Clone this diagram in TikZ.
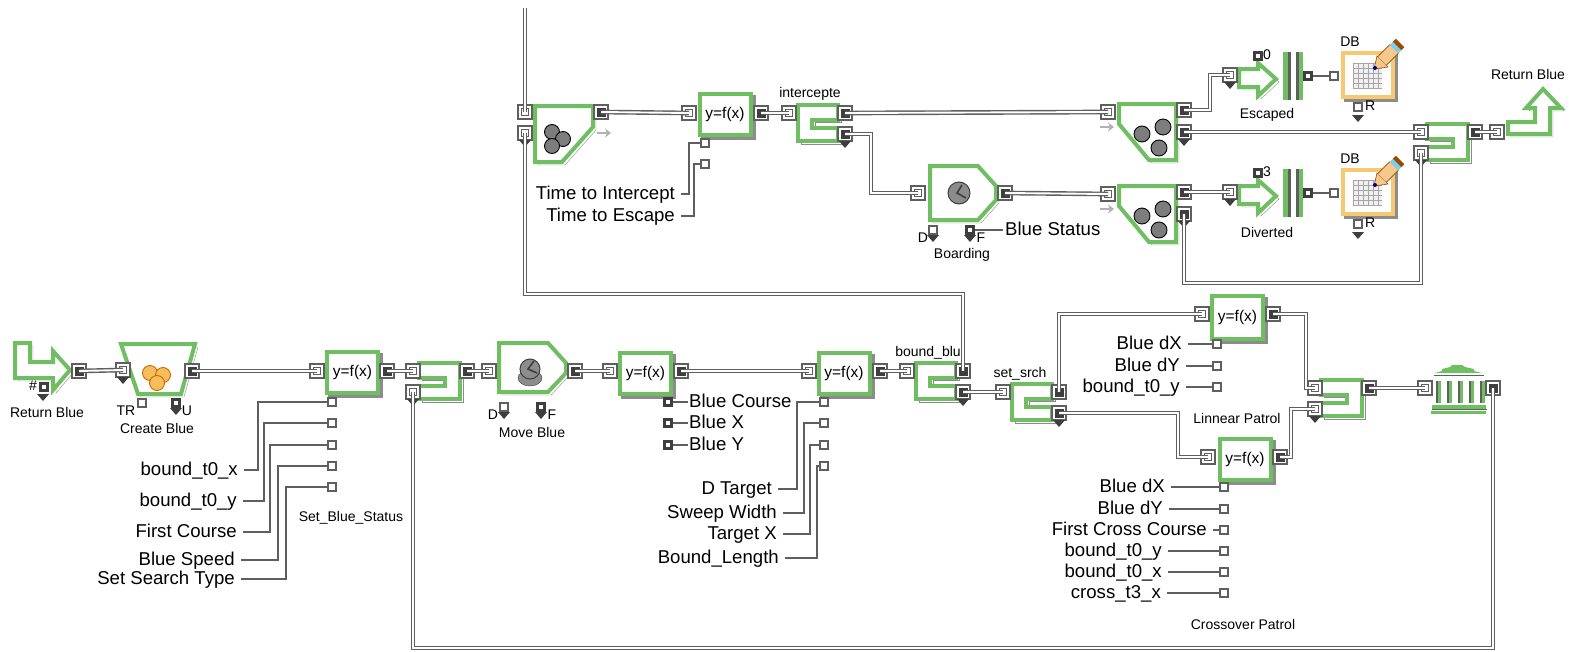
\documentclass[tikz,border=0pt]{standalone}
\usepackage{fontspec}
\setmainfont{Liberation Sans}
\usetikzlibrary{arrows.meta,positioning,calc}
\definecolor{blockGreen}{RGB}{112,190,98}
\definecolor{dbOrange}{RGB}{246,200,112}
\definecolor{shadeGray}{RGB}{140,140,140}
\definecolor{portGray}{RGB}{95,95,95}
\definecolor{portDark}{RGB}{62,62,62}
\definecolor{ballGray}{RGB}{125,125,125}
\definecolor{ballOrange}{RGB}{246,190,90}
\definecolor{pencilTan}{RGB}{246,200,140}

\tikzset{
  shaded/.style={preaction={draw=shadeGray, transform canvas={xshift=3pt, yshift=-3pt}}},
  block/.style={draw=blockGreen, fill=white, line width=4pt, miter limit=10, shaded},
  fblock/.style={block, minimum width=51pt, minimum height=41pt, inner sep=0pt, font=\fontsize{15.5}{16}\selectfont},
  inport/.style={draw=portGray, fill=white, line width=1.6pt, minimum size=13.5pt, inner sep=0pt,
    path picture={\draw[portGray, line width=1.2pt] (path picture bounding box.center) +(-3.5,-3.5) rectangle +(3.5,3.5);}},
  outport/.style={draw=portGray, fill=white, line width=1.6pt, minimum size=13.5pt, inner sep=0pt,
    path picture={\fill[portDark] (path picture bounding box.center) +(-4.5,-4.5) rectangle +(4.5,4.5);}},
  tinyport/.style={draw=portGray, fill=white, line width=1.1pt, minimum size=8pt, inner sep=0pt},
  tinyfull/.style={draw=portDark, fill=white, line width=2.6pt, minimum size=7pt, inner sep=0pt},
  conn/.style={draw=portGray, line width=1.4pt, double=white, double distance=1.9pt},
  wire/.style={draw=portGray, line width=1.2pt},
  invar/.style={font=\fontsize{18.6}{19}\selectfont, inner ysep=0pt, inner xsep=6pt, text height=11pt, text depth=0pt},
  tag/.style={font=\fontsize{14}{14}\selectfont, inner sep=0pt},
  ball/.style={fill=ballGray, draw=black, line width=0.9pt},
  warmball/.style={fill=ballOrange, draw=orange!80!black, line width=0.9pt},
  hint/.style={-{Stealth[length=6pt,width=9pt]}, draw=gray!60, line width=2.4pt},
}

% drop mark under a port
\newcommand{\dropmark}[2]{\fill[portDark] (#1-6,#2) -- (#1+6,#2) -- (#1,#2+7) -- cycle;}

% merge box, opening to the left
\newcommand{\mergebox}[3]{
  \begin{scope}[shift={(#2,#3)}]
    \draw[block] (2,2) -- (43,2) -- (43,38) -- (2,38) -- (2,24.5) -- (28,24.5) -- (28,16.5) -- (2,16.5) -- cycle;
    \node[inport] (#1a) at (-4,10) {};
    \node[inport] (#1b) at (-4,31) {};
    \node[outport] (#1o) at (50,10) {};
    \dropmark{-4}{38}
  \end{scope}}

% split box, opening to the right
\newcommand{\splitbox}[3]{
  \begin{scope}[shift={(#2,#3)}]
    \draw[block] (42,2) -- (2,2) -- (2,38) -- (42,38) -- (42,24.5) -- (16,24.5) -- (16,16.5) -- (42,16.5) -- cycle;
    \node[inport] (#1i) at (-7,10) {};
    \node[outport] (#1a) at (49,10) {};
    \node[outport] (#1b) at (49,31) {};
    \dropmark{49}{38}
  \end{scope}}

% batch box with the three dark balls
\newcommand{\batchbox}[3]{
  \begin{scope}[shift={(#2,#3)}]
    \draw[block] (2,2) -- (59,2) -- (59,58) -- (32,58) -- (2,22) -- cycle;
    \draw[ball] (25,32) circle (8);
    \draw[ball] (46,25) circle (8);
    \draw[ball] (42,46) circle (8);
    \draw[hint] (-17,25) -- (-3,25);
    \node[inport] (#1i) at (-9,10) {};
    \node[outport] (#1a) at (67,8) {};
    \node[outport] (#1b) at (67,30) {};
    \dropmark{67}{37}
  \end{scope}}

% exit arrow, gap bars and database, one row
\newcommand{\recordset}[4]{
  \begin{scope}[shift={(0,#2)}]
    \draw[block] (1239,69) -- (1258,69) -- (1258,63) -- (1276,79) -- (1258,96) -- (1258,87) -- (1239,87) -- cycle;
    \node[inport] (#1in) at (1230,75) {};
    \dropmark{1230}{82}
    \node[tinyfull] (#1num) at (1258,56) {};
    \node[tag, anchor=west] (#1val) at (1263,55) {#3};
    \fill[blockGreen] (1283,52) rectangle (1288,100);
    \fill[portGray] (1288,52) rectangle (1291,100);
    \fill[portGray] (1296,52) rectangle (1299,100);
    \fill[blockGreen] (1299,52) rectangle (1303,100);
    \node[tinyfull] (#1gap) at (1308,76) {};
    \node[tinyport] (#1db) at (1334,76) {};
    \node[draw=dbOrange, fill=white, line width=4pt, shaded, minimum width=50pt, minimum height=44pt, inner sep=0pt] (#1box) at (1368,75) {};
    \fill[gray!12] (1353,63) rectangle (1382,88);
    \draw[gray!70, line width=0.8pt, step=5pt, shift={(3,3)}] (1350,60) grid (1379,85);
    \fill[pencilTan, draw=orange!60!black, line width=0.6pt] (1374,69) -- (1377,56) -- (1388,67) -- cycle;
    \draw[line width=13pt, draw=orange!60!black] (1382,61) -- (1394,49);
    \draw[line width=11pt, draw=pencilTan] (1382,61) -- (1394,49);
    \draw[line width=12pt, draw=cyan!55!white] (1394,49) -- (1397,46);
    \draw[line width=12pt, draw=orange!60!black] (1397,46) -- (1400,43);
    \fill[blue!60!black] (1375,68) circle (2);
    \node[tag] (#1dbl) at (1350,42) {DB};
    \node[tinyport] (#1r) at (1358,107) {};
    \node[tag, anchor=west] (#1rl) at (1365,106) {R};
    \dropmark{1358}{115}
    \node[tag] (#1lbl) at (1267,115) {#4};
  \end{scope}}

\begin{document}
\begin{tikzpicture}[x=1pt, y=-1pt]
  \useasboundingbox (0,0) rectangle (1569,651);
  \fill[white] (0,0) rectangle (1569,651);

  % Entry and create
  \draw[block] (15,343) -- (30,343) -- (30,362) -- (53,362) -- (53,351) -- (70,370) -- (53,390) -- (53,378) -- (15,378) -- cycle;
  \node[outport] (retout) at (79,371) {};
  \node[tinyfull] (retnum) at (44,387) {};
  \node[tag] (rethash) at (33,386) {\#};
  \dropmark{43}{394}
  \node[tag] (retlbl) at (47,412) {Return Blue};
  \draw[block] (121,344) -- (195,344) -- (181,394) -- (138,394) -- cycle;
  \draw[warmball] (150,373) circle (7.5);
  \draw[warmball] (163,375) circle (7.5);
  \draw[warmball] (157,383) circle (7.5);
  \node[inport] (createin) at (123,370) {};
  \dropmark{123}{377}
  \node[outport] (createout) at (192,371) {};
  \node[tinyport] (createtr) at (142,403) {};
  \node[tinyfull] (createu) at (176,403) {};
  \dropmark{176}{408}
  \node[tag] (trlbl) at (126,411) {TR};
  \node[tag] (ulbl) at (187,411) {U};
  \node[tag] (createlbl) at (157,428) {Create Blue};

  % Set blue status
  \node[fblock] (status) at (352.5,372.5) {y=f(x)};
  \node[inport] (statusin) at (317,371) {};
  \node[outport] (statusout) at (387,371) {};
  \node[tinyport] (sa) at (332,402) {};
  \node[tinyport] (sb) at (332,423) {};
  \node[tinyport] (sc) at (332,445) {};
  \node[tinyport] (sd) at (332,466) {};
  \node[tinyport] (se) at (332,487) {};
  \node[tag] (statuslbl) at (351,518) {Set\_Blue\_Status};
  \node[invar, anchor=east] (boundx) at (244,470) {bound\_t0\_x};
  \node[invar, anchor=east] (boundy) at (243,501) {bound\_t0\_y};
  \node[invar, anchor=east] (course) at (243,532) {First Course};
  \node[invar, anchor=east] (speed) at (241,560) {Blue Speed};
  \node[invar, anchor=east] (search) at (241,579) {Set Search Type};
  \mergebox{first}{417}{361}

  % Move blue
  \draw[block] (499,343) -- (548,343) -- (566,363) -- (566,373) -- (548,392) -- (499,392) -- cycle;
  \draw[fill=shadeGray, draw=portDark] (530,378) ellipse (12 and 8);
  \draw[fill=shadeGray, draw=portDark, line width=1pt] (530,369) circle (10);
  \draw[portDark, line width=1.6pt] (534,361) -- (528,369) -- (537,373);
  \node[inport] (movein) at (489,371) {};
  \node[outport] (moveout) at (575,371) {};
  \node[tinyport] (moved) at (504,407) {};
  \dropmark{504}{412}
  \node[tinyfull] (movef) at (541,407) {};
  \dropmark{541}{412}
  \node[tag] (dmove) at (493,415) {D};
  \node[tag] (fmove) at (552,415) {F};
  \node[tag] (movelbl) at (532,432) {Move Blue};

  % Blue position
  \node[fblock] (place) at (645.5,373) {y=f(x)};
  \node[inport] (placein) at (610,371) {};
  \node[outport] (placeout) at (681,371) {};
  \node[tinyfull] (pa) at (668,402) {};
  \node[tinyfull] (pb) at (668,423) {};
  \node[tinyfull] (pc) at (668,445) {};
  \node[invar, anchor=west, inner xsep=1pt] (bcourse) at (688,402) {Blue Course};
  \node[invar, anchor=west, inner xsep=1pt] (bluex) at (688,423) {Blue X};
  \node[invar, anchor=west, inner xsep=1pt] (bluey) at (688,445) {Blue Y};

  % Bound
  \node[fblock] (bound) at (844,373) {y=f(x)};
  \node[inport] (boundin) at (809,371) {};
  \node[outport] (boundout) at (880,371) {};
  \node[tinyport] (ba) at (824,402) {};
  \node[tinyport] (bb) at (824,423) {};
  \node[tinyport] (bc) at (824,445) {};
  \node[tinyport] (bd) at (824,466) {};
  \node[invar, anchor=east] (dtarget) at (778,489) {D Target};
  \node[invar, anchor=east] (sweep) at (783,513) {Sweep Width};
  \node[invar, anchor=east] (targetx) at (783,534) {Target X};
  \node[invar, anchor=east] (boundlen) at (785,558) {Bound\_Length};
  \splitbox{blu}{914}{361}
  \node[tag] (blulbl) at (928,353) {bound\_blu};
  \splitbox{srch}{1010}{382}
  \node[tag] (srchlbl) at (1020,374) {set\_srch};

  % Linnear patrol
  \node[fblock, minimum height=43pt] (linear) at (1237.5,317) {y=f(x)};
  \node[inport] (linearin) at (1202,314) {};
  \node[outport] (linearout) at (1273,314) {};
  \node[tinyport] (la) at (1217,344) {};
  \node[tinyport] (lb) at (1217,366) {};
  \node[tinyport] (lc) at (1217,387) {};
  \node[invar, anchor=east] (ldx) at (1188,344) {Blue dX};
  \node[invar, anchor=east] (ldy) at (1186,366) {Blue dY};
  \node[invar, anchor=east] (lbt) at (1186,387) {bound\_t0\_y};
  \node[tag] (linearlbl) at (1237,418) {Linnear Patrol};

  % Crossover patrol
  \node[fblock] (cross) at (1245,459) {y=f(x)};
  \node[inport] (crossin) at (1208,457) {};
  \node[outport] (crossout) at (1280,457) {};
  \node[tinyport] (ca) at (1224,487) {};
  \node[tinyport] (cb) at (1224,509) {};
  \node[tinyport] (cc) at (1224,530) {};
  \node[tinyport] (cd) at (1224,551) {};
  \node[tinyport] (ce) at (1224,572) {};
  \node[tinyport] (cf) at (1224,593) {};
  \node[invar, anchor=east] (cdx) at (1171,487) {Blue dX};
  \node[invar, anchor=east] (cdy) at (1169,509) {Blue dY};
  \node[invar, anchor=east] (cfirst) at (1213,530) {First Cross Course};
  \node[invar, anchor=east] (cby) at (1168,551) {bound\_t0\_y};
  \node[invar, anchor=east] (cbx) at (1168,572) {bound\_t0\_x};
  \node[invar, anchor=east] (ctx) at (1167,593) {cross\_t3\_x};
  \node[tag] (crosslbl) at (1243,624) {Crossover Patrol};
  \mergebox{patrol}{1319}{378}

  % Sink
  \fill[blockGreen] (1435,373) -- (1442,371) -- (1442,369) -- (1450,367) -- (1452,365) -- (1462,365) -- (1465,367) -- (1474,369) -- (1474,371) -- (1482,373) -- cycle;
  \draw[portGray, line width=1pt] (1434,375) -- (1484,375);
  \fill[portGray] (1436,381) rectangle (1437.5,403);
  \fill[blockGreen] (1437.5,381) rectangle (1441,403);
  \fill[portGray] (1447,381) rectangle (1448.5,403);
  \fill[blockGreen] (1448.5,381) rectangle (1452,403);
  \fill[portGray] (1458,381) rectangle (1459.5,403);
  \fill[blockGreen] (1459.5,381) rectangle (1463,403);
  \fill[portGray] (1469,381) rectangle (1470.5,403);
  \fill[blockGreen] (1470.5,381) rectangle (1474,403);
  \fill[portGray] (1480,381) rectangle (1481.5,403);
  \fill[blockGreen] (1481.5,381) rectangle (1485,403);
  \fill[blockGreen] (1432,405) rectangle (1486,409);
  \fill[portGray] (1432,409) rectangle (1487,410);
  \fill[blockGreen] (1431,411) rectangle (1486,414);
  \node[inport] (sinkin) at (1425,388) {};
  \node[outport] (sinkout) at (1493,388) {};

  % Upper row
  \coordinate (topend) at (525,8);
  \draw[block] (535,106) -- (593,106) -- (593,127) -- (562,162) -- (535,162) -- cycle;
  \draw[ball] (552,132) circle (7.5);
  \draw[ball] (563,139) circle (7.5);
  \draw[ball] (552,146) circle (7.5);
  \draw[hint] (597,133) -- (611,133);
  \node[inport] (gatea) at (525,112) {};
  \node[inport] (gateb) at (525,133) {};
  \dropmark{525}{140}
  \node[outport] (gateout) at (601,112) {};
  \node[fblock] (timing) at (725,114) {y=f(x)};
  \node[inport] (timingin) at (689,113) {};
  \node[outport] (timingout) at (761,113) {};
  \node[tinyport] (ta) at (705,143) {};
  \node[tinyport] (tb) at (705,164) {};
  \node[invar, anchor=east] (tintercept) at (681,194) {Time to Intercept};
  \node[invar, anchor=east] (tescape) at (681,216) {Time to Escape};
  \splitbox{icpt}{796}{103}
  \node[tag] (icptlbl) at (810,94) {intercepte};

  % Boarding
  \draw[block] (930,166) -- (978,166) -- (996,186) -- (996,200) -- (978,220) -- (930,220) -- cycle;
  \draw[fill=shadeGray, draw=portDark, line width=1pt] (959,193) circle (11);
  \draw[portDark, line width=1.6pt] (962,185) -- (957,193) -- (966,198);
  \node[inport] (boardin) at (918,193) {};
  \node[outport] (boardout) at (1005,193) {};
  \node[tinyport] (boardd) at (933,230) {};
  \dropmark{933}{235}
  \node[tinyfull] (boardf) at (970,230) {};
  \dropmark{970}{235}
  \node[tag] (dboard) at (923,238) {D};
  \node[tag] (fboard) at (981,238) {F};
  \node[tag] (boardlbl) at (962,255) {Boarding};
  \node[invar, anchor=west, inner xsep=2pt] (bstatus) at (1003,230) {Blue Status};

  % Escaped and diverted
  \batchbox{esc}{1117}{102}
  \batchbox{div}{1117}{184}
  \recordset{esca}{0}{0}{Escaped}
  \recordset{divt}{117}{3}{Diverted}
  \mergebox{back}{1425}{122}
  \draw[block] (1508,122) -- (1535,122) -- (1535,108) -- (1526,108) -- (1543,89) -- (1561,108) -- (1550,108) -- (1550,134) -- (1508,134) -- cycle;
  \node[inport] (exitin) at (1497,132) {};
  \node[tag] (exitlbl) at (1528,74) {Return Blue};

  % Connectors
  \draw[conn] (retout.center) -- (createin.center);
  \draw[conn] (createout.center) -- (statusin.center);
  \draw[conn] (statusout.center) -- (firsta.center);
  \draw[conn] (firsto.center) -- (movein.center);
  \draw[conn] (moveout.center) -- (placein.center);
  \draw[conn] (placeout.center) -- (boundin.center);
  \draw[conn] (boundout.center) -- (blui.center);
  \draw[conn] (blub.center) -- (srchi.center);
  \draw[conn] (srcha.center) |- (linearin.center);
  \draw[conn] (srchb.center) -| (1178,0 |- crossin) -- (crossin.center);
  \draw[conn] (linearout.center) -| (1306,0 |- patrola) -- (patrola.center);
  \draw[conn] (crossout.center) -| (1291,0 |- patrolb) -- (patrolb.center);
  \draw[conn] (patrolo.center) -- (sinkin.center);
  \draw[conn] (firstb.center) -- (firstb |- 0,648) -- (sinkout |- 0,648) -- (sinkout.center);
  \draw[conn] (gateb.center) -- (gateb |- 0,294) -- (blua |- 0,294) -- (blua.center);
  \draw[conn] (topend) -- (gatea.center);
  \draw[conn] (gateout.center) -- (timingin.center);
  \draw[conn] (timingout.center) -- (icpti.center);
  \draw[conn] (icpta.center) -- (esci.center);
  \draw[conn] (icptb.center) -| (871,0 |- boardin) -- (boardin.center);
  \draw[conn] (boardout.center) -- (divi.center);
  \draw[conn] (esca.center) -| (1210,0 |- escain) -- (escain.center);
  \draw[conn] (divb.center) -- (divb |- 0,283) -- (backb |- 0,283) -- (backb.center);
  \draw[conn] (escb.center) -- (backa.center);
  \draw[conn] (diva.center) -- (divtin.center);
  \draw[conn] (backo.center) -- (exitin.center);

  % Wires
  \draw[wire] (boundx.east) -| (258,0 |- sa) -- (sa);
  \draw[wire] (boundy.east) -| (264,0 |- sb) -- (sb);
  \draw[wire] (course.east) -| (270,0 |- sc) -- (sc);
  \draw[wire] (speed.east) -| (278,0 |- sd) -- (sd);
  \draw[wire] (search.east) -| (286,0 |- se) -- (se);
  \draw[wire] (pa) -- (bcourse.west);
  \draw[wire] (pb) -- (bluex.west);
  \draw[wire] (pc) -- (bluey.west);
  \draw[wire] (dtarget.east) -| (797,0 |- ba) -- (ba);
  \draw[wire] (sweep.east) -| (804,0 |- bb) -- (bb);
  \draw[wire] (targetx.east) -| (810,0 |- bc) -- (bc);
  \draw[wire] (boundlen.east) -| (817,0 |- bd) -- (bd);
  \draw[wire] (ldx.east) -- (la);
  \draw[wire] (ldy.east) -- (lb);
  \draw[wire] (lbt.east) -- (lc);
  \draw[wire] (cdx.east) -- (ca);
  \draw[wire] (cdy.east) -- (cb);
  \draw[wire] (cfirst.east) -- (cc);
  \draw[wire] (cby.east) -- (cd);
  \draw[wire] (cbx.east) -- (ce);
  \draw[wire] (ctx.east) -- (cf);
  \draw[wire] (tintercept.east) -| (689,0 |- ta) -- (ta);
  \draw[wire] (tescape.east) -| (694,0 |- tb) -- (tb);
  \draw[wire] (boardf) -- (bstatus.west);
  \draw[wire] (escagap) -- (escadb);
  \draw[wire] (divtgap) -- (divtdb);
\end{tikzpicture}
\end{document}
